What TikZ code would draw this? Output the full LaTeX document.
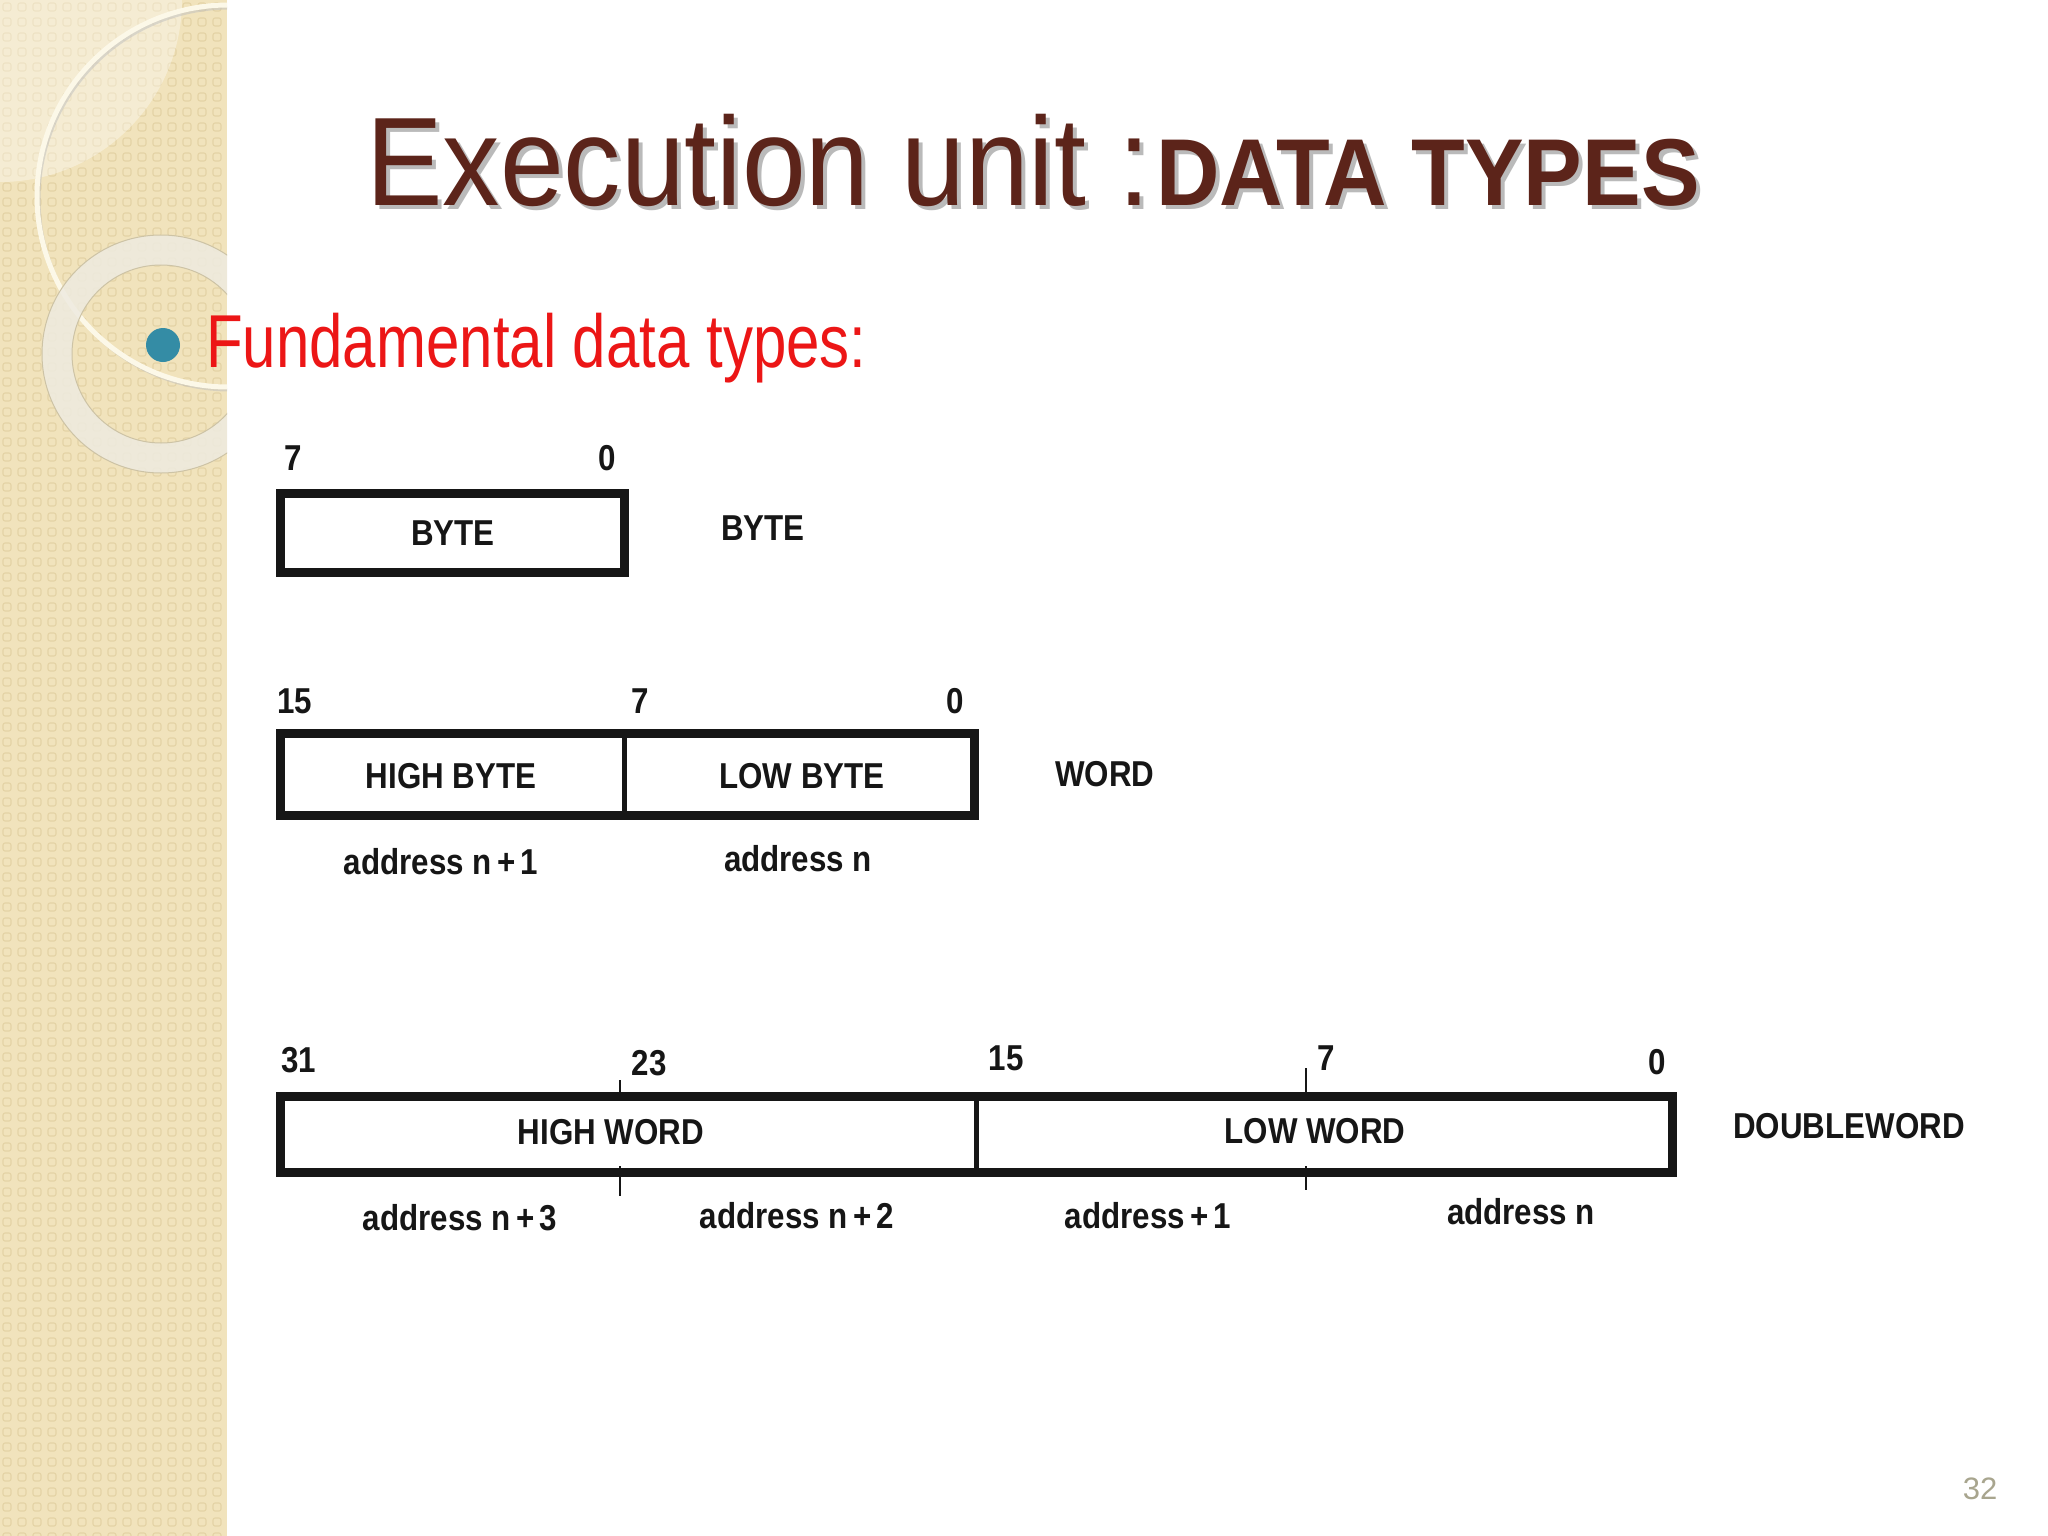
\documentclass[tikz,border=0pt]{standalone}
\usepackage{fontspec}
\setmainfont{Liberation Sans}
\usepackage{graphicx}
\definecolor{ink}{RGB}{22,22,22}
\definecolor{stripe}{RGB}{241,227,188}
\definecolor{stripedot}{RGB}{228,211,165}
\definecolor{ringcol}{RGB}{238,235,224}
\definecolor{ringedge}{RGB}{205,195,165}
\definecolor{cream}{RGB}{252,248,232}
\definecolor{titlecol}{RGB}{92,36,26}
\definecolor{bulletcol}{RGB}{52,140,165}
\definecolor{redtxt}{RGB}{236,22,22}
\definecolor{pagecol}{RGB}{168,165,142}
\newcommand{\cz}[1]{\scalebox{0.87}[1]{#1}}
\begin{document}
\begin{tikzpicture}[x=1pt,y=-1pt,
  lbl/.style={font=\fontsize{36}{40}\selectfont\bfseries, text=ink, inner sep=0pt},
  regbox/.style={draw=ink, line width=9pt, fill=white, inner sep=0pt},
  divider/.style={draw=ink, line width=5pt},
  tickline/.style={draw=ink, line width=2pt}]
\useasboundingbox (0,0) rectangle (2048,1536);
\fill[white] (0,0) rectangle (2048,1536);
% left decorative stripe
\begin{scope}
  \clip (0,0) rectangle (227,1536);
  \fill[stripe] (0,0) rectangle (227,1536);
  \foreach \i in {0,...,15}{
    \foreach \j in {0,...,103}{
      \draw[stripedot, line width=1.1pt, rounded corners=2pt] (\i*15+3,\j*15+3) rectangle ++(8,8);
    }
  }
  \fill[white, opacity=0.35] (0,0) circle (182);
  \draw[black!25, line width=3pt, opacity=0.5] (230,199) circle (191);
  \draw[cream, line width=5pt] (228,196) circle (191);
  \draw[ringcol, line width=30pt, opacity=0.85] (161,354) circle (104);
  \draw[ringedge, line width=1pt] (161,354) circle (119);
  \draw[ringedge, line width=1pt] (161,354) circle (89);
\end{scope}
% title
\node[anchor=base west, inner sep=0pt, text=black!45, opacity=0.6] (t1s) at (370,209)
  {\fontsize{126}{130}\selectfont\scalebox{0.91}[1]{Execution unit :}};
\node[anchor=base west, inner sep=0pt, text=black!45, opacity=0.6] (t2s) at (1160,209)
  {\fontsize{95}{100}\selectfont\bfseries\scalebox{0.925}[1]{DATA TYPES}};
\node[anchor=base west, inner sep=0pt, text=titlecol] (t1) at (366,205)
  {\fontsize{126}{130}\selectfont\scalebox{0.91}[1]{Execution unit :}};
\node[anchor=base west, inner sep=0pt, text=titlecol] (t2) at (1156,205)
  {\fontsize{95}{100}\selectfont\bfseries\scalebox{0.925}[1]{DATA TYPES}};
% bullet
\node[circle, fill=bulletcol, minimum size=34pt, inner sep=0pt] (bullet) at (163,345) {};
\node[anchor=base west, inner sep=0pt, text=redtxt] (fund) at (206,367)
  {\fontsize{75}{80}\selectfont\scalebox{0.80}[1]{Fundamental data types:}};
% BYTE
\node[regbox, minimum width=344pt, minimum height=79pt] (bytebox) at (452,532.5) {};
\node[lbl] (b7) at (293,458) {\cz{7}};
\node[lbl] (b0) at (607,458) {\cz{0}};
\node[lbl] (bytetxt) at (453,533) {\cz{BYTE}};
\node[lbl] (bytename) at (763,528) {\cz{BYTE}};
% WORD
\node[regbox, minimum width=694pt, minimum height=82pt] (wordbox) at (627,774) {};
\coordinate (wdt) at (624,733);
\coordinate (wdb) at (624,815);
\draw[divider] (wdt) -- (wdb);
\node[lbl] (w15) at (295,701) {\cz{15}};
\node[lbl] (w7) at (640,701) {\cz{7}};
\node[lbl] (w0) at (955,701) {\cz{0}};
\node[lbl] (hb) at (451,776) {\cz{HIGH BYTE}};
\node[lbl] (lb) at (802,776) {\cz{LOW BYTE}};
\node[lbl] (wordname) at (1105,774) {\cz{WORD}};
\node[lbl] (wa1) at (441,862) {\cz{address n\,+\,1}};
\node[lbl] (wa0) at (798,859) {\cz{address n}};
% DOUBLEWORD
\node[regbox, minimum width=1392pt, minimum height=76pt] (dwbox) at (976,1134.5) {};
\coordinate (ddt) at (976,1096.5);
\coordinate (ddb) at (976,1172.5);
\draw[divider] (ddt) -- (ddb);
\coordinate (t1a) at (620,1080); \coordinate (t1b) at (620,1100);
\coordinate (t1c) at (620,1166); \coordinate (t1d) at (620,1196);
\coordinate (t2a) at (1306,1068); \coordinate (t2b) at (1306,1100);
\coordinate (t2c) at (1306,1166); \coordinate (t2d) at (1306,1190);
\draw[tickline] (t1a) -- (t1b);
\draw[tickline] (t1c) -- (t1d);
\draw[tickline] (t2a) -- (t2b);
\draw[tickline] (t2c) -- (t2d);
\node[lbl] (d31) at (299,1060) {\cz{31}};
\node[lbl] (d23) at (649,1063) {\cz{23}};
\node[lbl] (d15) at (1006,1058) {\cz{15}};
\node[lbl] (d7) at (1326,1058) {\cz{7}};
\node[lbl] (d0) at (1657,1062) {\cz{0}};
\node[lbl] (hw) at (611,1132) {\cz{HIGH WORD}};
\node[lbl] (lw) at (1315,1131) {\cz{LOW WORD}};
\node[lbl] (dwname) at (1849,1126) {\cz{DOUBLEWORD}};
\node[lbl] (da3) at (460,1218) {\cz{address n\,+\,3}};
\node[lbl] (da2) at (797,1216) {\cz{address n\,+\,2}};
\node[lbl] (da1) at (1148,1216) {\cz{address\,+\,1}};
\node[lbl] (da0) at (1521,1212) {\cz{address n}};
% page number
\node[inner sep=0pt, text=pagecol, font=\fontsize{31}{34}\selectfont] (page) at (1980,1489) {32};
\end{tikzpicture}
\end{document}
